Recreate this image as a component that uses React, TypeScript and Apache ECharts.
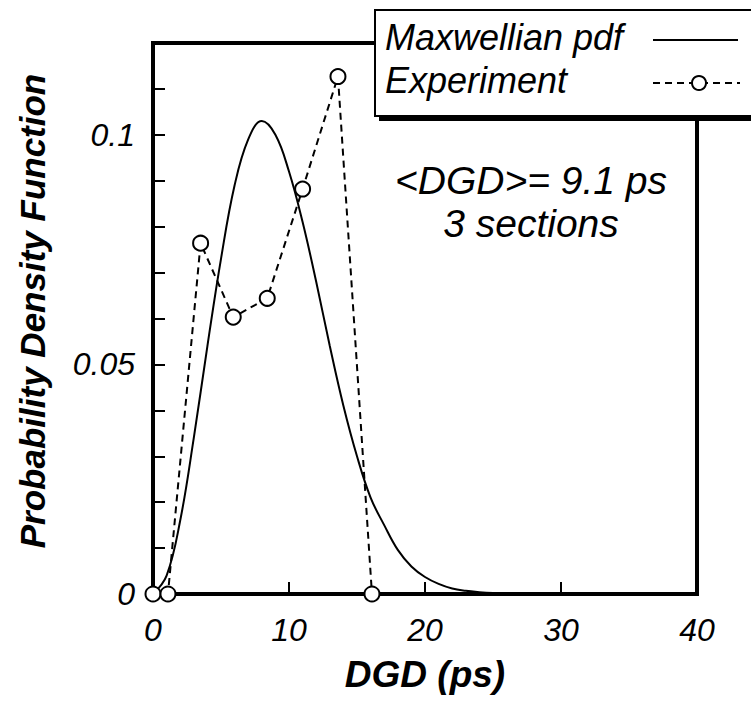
import React, { useEffect, useRef } from "react";
import * as echarts from "echarts";

// Maxwellian pdf curve (x in ps, y pdf)
const curveX = [0, 1, 2, 3, 4, 5, 6, 7, 8, 9, 10, 11, 12, 13, 14, 15, 16, 17, 18, 19, 20, 21, 22, 23, 24, 25, 26, 28, 30, 35, 40];
const curveY = [0, 0.004, 0.016, 0.034, 0.054, 0.073, 0.089, 0.099, 0.103, 0.1, 0.092, 0.081, 0.068, 0.054, 0.041, 0.03, 0.021, 0.015, 0.0096, 0.006, 0.0037, 0.0022, 0.0012, 0.0007, 0.0004, 0.0002, 0.0001, 0, 0, 0, 0];

// Experiment histogram points
const expX = [0, 1.1, 3.5, 5.9, 8.4, 11.0, 13.6, 16.1];
const expY = [0, 0, 0.0764, 0.0603, 0.0644, 0.0882, 0.1127, 0];

const yLabels = [0, 0.05, 0.1];
const legendNames = ["Maxwellian pdf", "Experiment"];
const annotation = ["<DGD>= 9.1 ps", "3 sections"];
const yTitle = "Probability Density Function";
const xTitle = "DGD (ps)";

const FONT = "'Liberation Sans', Arial, sans-serif";

export default function App() {
  const ref = useRef<HTMLDivElement>(null);
  useEffect(() => {
    if (!ref.current) return;
    const chart = echarts.init(ref.current, null, { renderer: "svg" });
    const option: any = {
      animation: false,
      backgroundColor: "#fff",
      grid: {
        left: 153,
        right: 54,
        top: 43,
        bottom: 113,
        show: true,
        borderColor: "#000",
        borderWidth: 4,
        backgroundColor: "transparent",
      },
      xAxis: {
        type: "value",
        min: 0,
        max: 40,
        interval: 10,
        name: xTitle,
        nameLocation: "middle",
        nameGap: 62,
        nameTextStyle: { fontFamily: FONT, fontStyle: "italic", fontWeight: "bold", fontSize: 37, color: "#000" },
        axisLine: { show: true, lineStyle: { color: "#000", width: 4 } },
        axisTick: { show: true, inside: true, length: 12, lineStyle: { color: "#000", width: 2 } },
        axisLabel: { fontFamily: FONT, fontStyle: "italic", fontSize: 32, color: "#000", margin: 20 },
        splitLine: { show: false },
      },
      yAxis: {
        type: "value",
        min: 0,
        max: 0.12,
        interval: 0.01,
        axisLine: { show: true, lineStyle: { color: "#000", width: 4 } },
        axisTick: { show: true, inside: true, length: 12, lineStyle: { color: "#000", width: 2 } },
        axisLabel: {
          fontFamily: FONT,
          fontStyle: "italic",
          fontSize: 32,
          color: "#000",
          margin: 18,
          formatter: (v: number) => {
            const hit = yLabels.find((l) => Math.abs(l - v) < 1e-9);
            return hit === undefined ? "" : String(hit);
          },
        },
        splitLine: { show: false },
      },
      series: [
        {
          name: legendNames[0],
          type: "line",
          data: curveX.map((x, i) => [x, curveY[i]]),
          smooth: 0.4,
          showSymbol: false,
          symbol: "none",
          lineStyle: { color: "#000", width: 2 },
          z: 3,
        },
        {
          name: legendNames[1],
          type: "line",
          data: expX.map((x, i) => [x, expY[i]]),
          symbol: "circle",
          symbolSize: 15,
          showAllSymbol: true,
          clip: false,
          lineStyle: { color: "#000", width: 2, type: [7, 5] },
          itemStyle: { color: "#fff", borderColor: "#000", borderWidth: 2 },
          z: 4,
        },
      ],
      graphic: [
        {
          type: "text",
          x: 32,
          y: 311,
          rotation: Math.PI / 2,
          style: { text: yTitle, font: `italic bold 35px ${FONT}`, fill: "#000", textAlign: "center", textVerticalAlign: "middle" },
          z: 12,
        },
        { type: "rect", shape: { x: 379, y: 15, width: 420, height: 106 }, style: { fill: "#000" }, z: 10 },
        { type: "rect", shape: { x: 375, y: 10, width: 420, height: 106 }, style: { fill: "#fff", stroke: "#000", lineWidth: 2 }, z: 11 },
        {
          type: "text",
          x: 385,
          y: 37,
          style: { text: legendNames[0], font: `italic 36px ${FONT}`, fill: "#000", textVerticalAlign: "middle" },
          z: 12,
        },
        {
          type: "text",
          x: 385,
          y: 80,
          style: { text: legendNames[1], font: `italic 36px ${FONT}`, fill: "#000", textVerticalAlign: "middle" },
          z: 12,
        },
        { type: "line", shape: { x1: 653, y1: 40, x2: 738, y2: 40 }, style: { stroke: "#000", lineWidth: 2 }, z: 12 },
        { type: "line", shape: { x1: 653, y1: 83, x2: 740, y2: 83 }, style: { stroke: "#000", lineWidth: 2, lineDash: [7, 5] }, z: 12 },
        { type: "circle", shape: { cx: 699, cy: 83, r: 7 }, style: { fill: "#fff", stroke: "#000", lineWidth: 2 }, z: 13 },
        {
          type: "text",
          x: 531,
          y: 180,
          style: { text: annotation[0], font: `italic 39px ${FONT}`, fill: "#000", textAlign: "center", textVerticalAlign: "middle" },
          z: 12,
        },
        {
          type: "text",
          x: 531,
          y: 223,
          style: { text: annotation[1], font: `italic 39px ${FONT}`, fill: "#000", textAlign: "center", textVerticalAlign: "middle" },
          z: 12,
        },
      ],
    };
    chart.setOption(option);
    return () => chart.dispose();
  }, []);
  return <div ref={ref} style={{ position: "fixed", left: 0, top: 0, width: 751, height: 707 }} />;
}
